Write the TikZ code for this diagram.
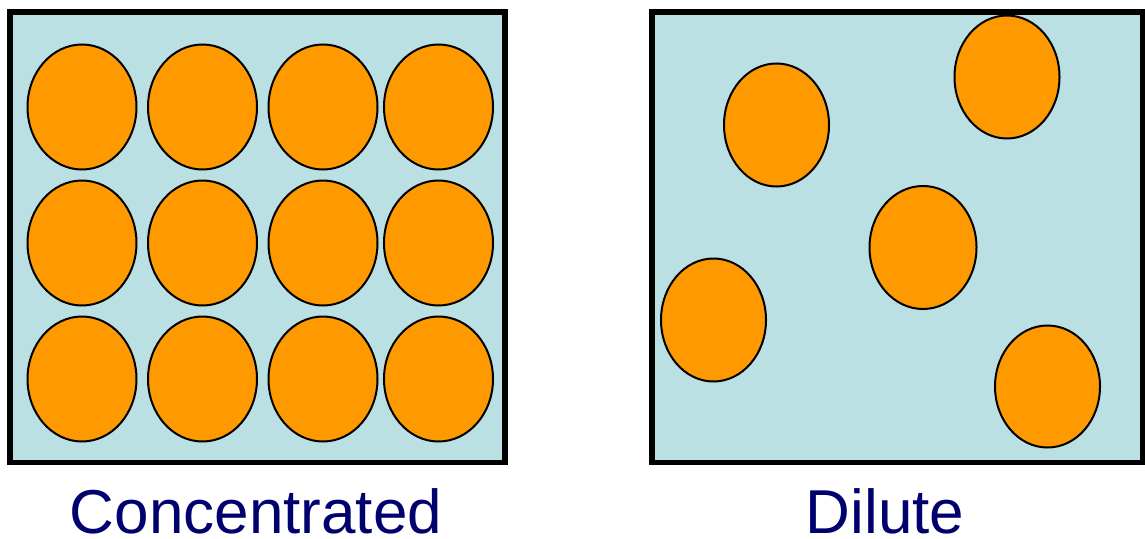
\documentclass[tikz,border=0pt]{standalone}
\usepackage{fontspec}
\setmainfont{Liberation Sans}
\definecolor{water}{RGB}{186,224,227}
\definecolor{particle}{RGB}{255,153,0}
\definecolor{labelnavy}{RGB}{0,0,110}
\tikzset{
  container/.style={draw=black, line width=5.5pt, fill=water},
  blob/.style={draw=black, line width=2pt, fill=particle},
  caption/.style={text=labelnavy, font=\fontsize{62}{62}\selectfont, inner sep=0pt, text depth=0pt, anchor=base}
}
\begin{document}
\begin{tikzpicture}[x=1pt,y=-1pt]
\useasboundingbox (0,0) rectangle (1145,538);
\draw[container] (10,12) rectangle (505,462.5);
\draw[container] (652,12) rectangle (1143,462.5);
\foreach \cx [count=\i] in {82,202.5,323,438.5}{
  \foreach \cy [count=\j] in {107,243,379}{
    \draw[blob] (\cx,\cy) ellipse [x radius=54.5, y radius=62.5];
  }
}
\draw[blob] (776.5,125) ellipse [x radius=52.5, y radius=61.5];
\draw[blob] (1007,77) ellipse [x radius=52.5, y radius=61.5];
\draw[blob] (923,247.5) ellipse [x radius=53.5, y radius=61.5];
\draw[blob] (713.5,320) ellipse [x radius=52.5, y radius=61.5];
\draw[blob] (1047.5,386.5) ellipse [x radius=52.5, y radius=61];
\node[caption] (conc) at (256,533) {Concentrated};
\node[caption] (dil) at (885,533) {Dilute};
\end{tikzpicture}
\end{document}
